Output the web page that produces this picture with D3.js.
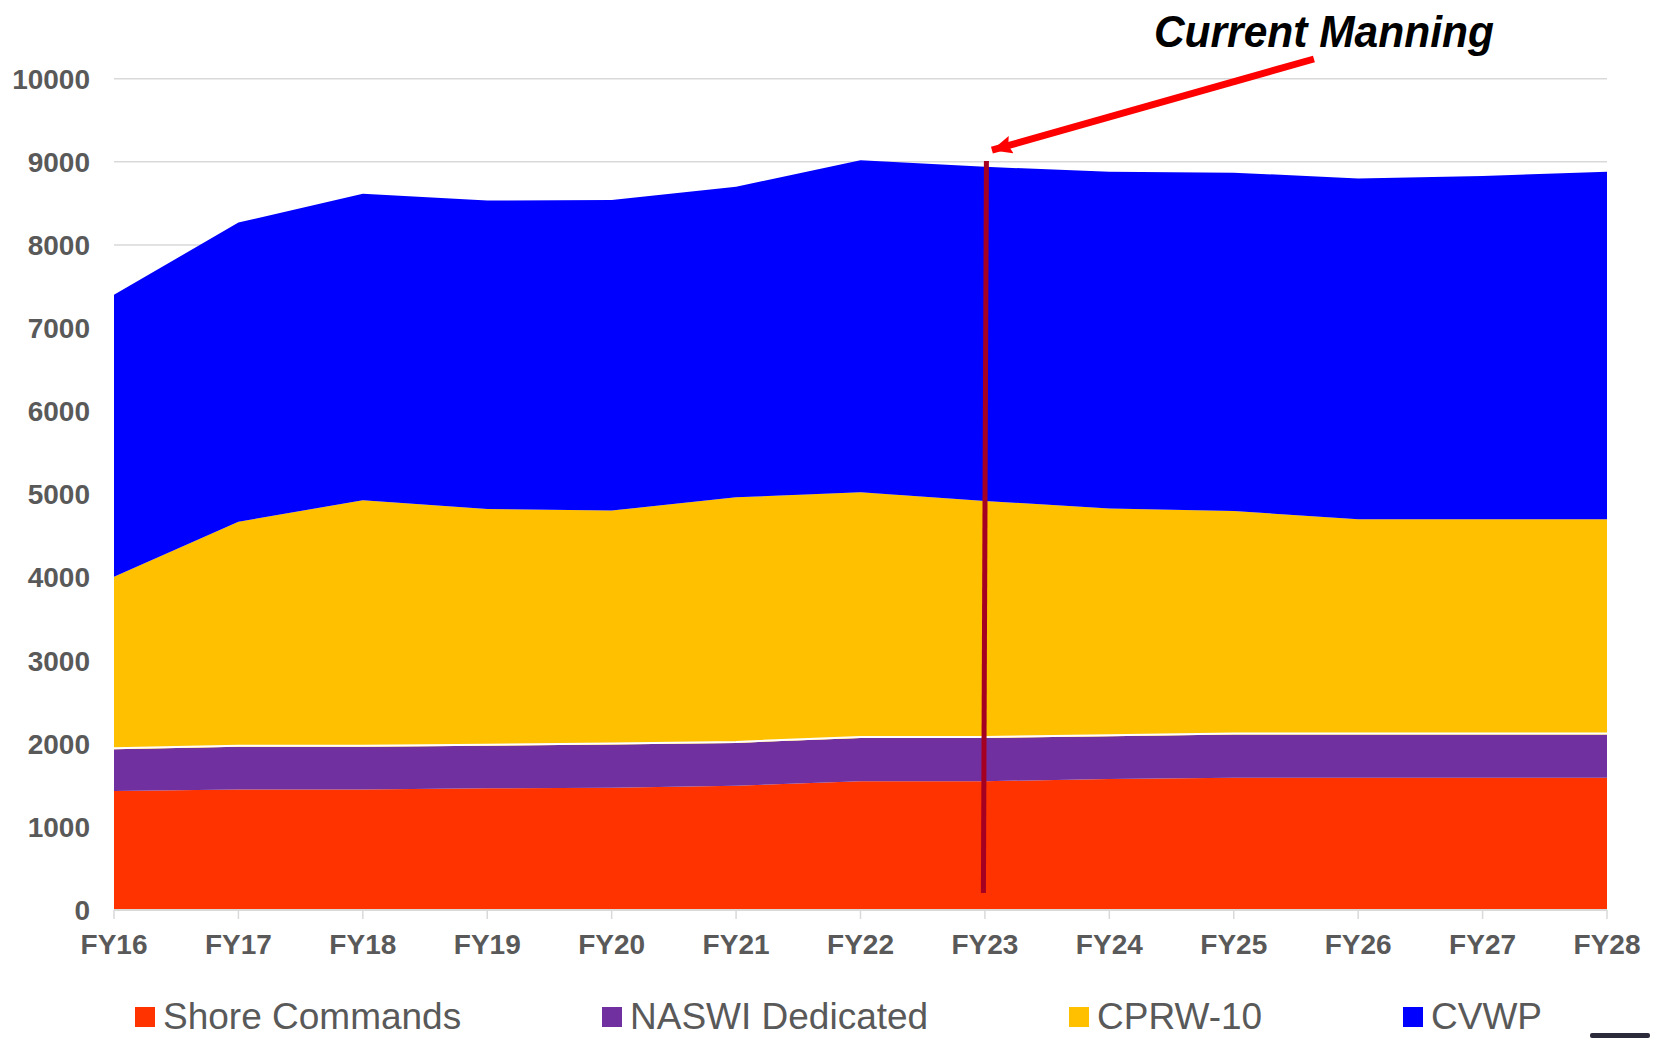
<!DOCTYPE html>
<html>
<head>
<title>Manning | D3</title>
<style>
  body { margin: 0; background: #fff; }
  svg { display: block; font-family: "Liberation Sans", Arial, sans-serif; }
  .tick-label { font-weight: bold; fill: #595959; font-size: 28px; }
  .legend-text { fill: #595959; font-size: 37px; }
</style>
<script src="https://d3js.org/d3.v7.min.js"></script>
</head>
<body>
<script>
// data (stacked, per fiscal year)
var years = ["FY16","FY17","FY18","FY19","FY20","FY21","FY22","FY23","FY24","FY25","FY26","FY27","FY28"];
var shore = [1430, 1450, 1450, 1465, 1470, 1495, 1550, 1550, 1575, 1590, 1590, 1590, 1590];
var naswi = [505, 515, 515, 510, 520, 515, 520, 520, 515, 520, 520, 520, 520];
var cprw  = [2075, 2705, 2965, 2850, 2815, 2955, 2955, 2850, 2740, 2690, 2590, 2590, 2590];
var cvwp  = [3390, 3600, 3685, 3710, 3735, 3735, 3995, 4020, 4050, 4070, 4100, 4130, 4180];
var seriesNames = ["Shore Commands", "NASWI Dedicated", "CPRW-10", "CVWP"];
var seriesColors = ["#ff3300", "#7030a0", "#ffc000", "#0000ff"];
var yTicks = [0,1000,2000,3000,4000,5000,6000,7000,8000,9000,10000];
var markerYear = "FY23";

var width = 1653, height = 1038;

var table = years.map(function(y, i) {
    return { year: y, "Shore Commands": shore[i], "NASWI Dedicated": naswi[i], "CPRW-10": cprw[i], "CVWP": cvwp[i] };
});

var svg = d3.select("body").append("svg")
    .attr("width", width)
    .attr("height", height);

var x = d3.scalePoint().domain(years).range([114, 1607]);
var y = d3.scaleLinear().domain([0, 10000]).range([910, 78.7]);

// gridlines
svg.append("g").selectAll("line")
    .data(yTicks.slice(1))
    .enter().append("line")
    .attr("x1", x.range()[0]).attr("x2", x.range()[1])
    .attr("y1", function(d){ return y(d); })
    .attr("y2", function(d){ return y(d); })
    .attr("stroke", "#d9d9d9")
    .attr("stroke-width", 1.5);

// stacked areas
var stack = d3.stack().keys(seriesNames);
var layers = stack(table);
var area = d3.area()
    .x(function(d){ return x(d.data.year); })
    .y0(function(d){ return y(d[0]); })
    .y1(function(d){ return y(d[1]); });

svg.append("g").selectAll("path")
    .data(layers)
    .enter().append("path")
    .attr("fill", function(d, i){ return seriesColors[i]; })
    .attr("d", area);

// thin white edge on top of NASWI layer
svg.append("path")
    .datum(layers[1])
    .attr("fill", "none")
    .attr("stroke", "#fff")
    .attr("stroke-width", 2)
    .attr("d", d3.line()
        .x(function(d){ return x(d.data.year); })
        .y(function(d){ return y(d[1]) - 1; }));

// x axis line + ticks
var xAxis = svg.append("g");
xAxis.append("line")
    .attr("x1", x.range()[0]).attr("x2", x.range()[1])
    .attr("y1", y(0)).attr("y2", y(0))
    .attr("stroke", "#d9d9d9").attr("stroke-width", 2);
xAxis.selectAll("line.tk")
    .data(years).enter().append("line")
    .attr("class", "tk")
    .attr("x1", function(d){ return x(d); })
    .attr("x2", function(d){ return x(d); })
    .attr("y1", y(0)).attr("y2", y(0) + 9)
    .attr("stroke", "#d9d9d9").attr("stroke-width", 1.5);
xAxis.selectAll("text")
    .data(years).enter().append("text")
    .attr("class", "tick-label")
    .attr("x", function(d){ return x(d); })
    .attr("y", y(0) + 44)
    .attr("text-anchor", "middle")
    .text(function(d){ return d; });

// y labels
svg.append("g").selectAll("text")
    .data(yTicks).enter().append("text")
    .attr("class", "tick-label")
    .attr("x", 90)
    .attr("y", function(d){ return y(d) + 10; })
    .attr("text-anchor", "end")
    .text(function(d){ return d; });

// current manning marker line
var xm = x(markerYear);
svg.append("line")
    .attr("x1", xm + 1.5).attr("y1", y(9010))
    .attr("x2", xm - 1.5).attr("y2", y(205))
    .attr("stroke", "#a50021")
    .attr("stroke-width", 5);

// arrow + annotation
svg.append("defs").append("marker")
    .attr("id", "head")
    .attr("markerUnits", "userSpaceOnUse")
    .attr("markerWidth", 24).attr("markerHeight", 20)
    .attr("refX", 20).attr("refY", 9)
    .attr("orient", "auto")
    .append("path")
    .attr("d", "M0,0 L20,9 L0,18 L3,9 Z")
    .attr("fill", "#ff0000");

svg.append("line")
    .attr("x1", xm + 329).attr("y1", y(10237))
    .attr("x2", xm + 7).attr("y2", y(9140))
    .attr("stroke", "#ff0000")
    .attr("stroke-width", 7)
    .attr("marker-end", "url(#head)");

svg.append("text")
    .attr("x", xm + 169)
    .attr("y", y(10381))
    .attr("font-size", 44)
    .attr("font-weight", "bold")
    .attr("font-style", "italic")
    .attr("fill", "#000")
    .attr("textLength", 340)
    .attr("lengthAdjust", "spacingAndGlyphs")
    .text("Current Manning");

// legend
var legendX = [135, 602, 1069, 1403];
var lg = svg.append("g").selectAll("g")
    .data(seriesNames).enter().append("g")
    .attr("transform", function(d, i){ return "translate(" + legendX[i] + ",1007)"; });
lg.append("rect")
    .attr("width", 20).attr("height", 20)
    .attr("fill", function(d, i){ return seriesColors[i]; });
lg.append("text")
    .attr("class", "legend-text")
    .attr("x", 28).attr("y", 22)
    .text(function(d){ return d; });

// cut-off logo corner at bottom right
svg.append("rect")
    .attr("x", 1590).attr("y", 1033)
    .attr("width", 60).attr("height", 5)
    .attr("rx", 2)
    .attr("fill", "#2a2a3a");
</script>
</body>
</html>
